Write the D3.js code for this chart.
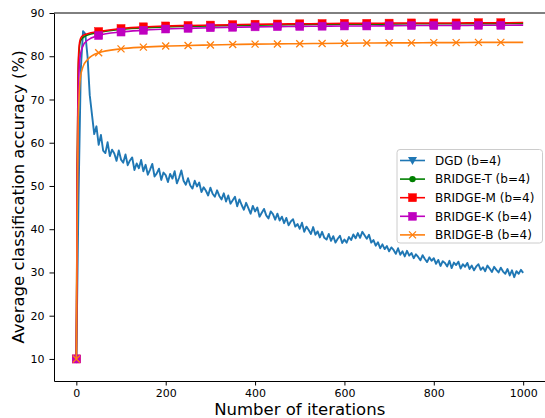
<!DOCTYPE html>
<html>
<head>
<meta charset="utf-8">
<script src="https://cdn.jsdelivr.net/npm/d3@7"></script>
<style>
  html, body { margin: 0; padding: 0; background: #fff; }
  text { font-family: "DejaVu Sans", sans-serif; fill: #000; }
</style>
</head>
<body>
<div id="chart"></div>
<script>
// DGD accuracy, sampled every 5 iterations (0..1000)
const dgdStep = 5;
const dgdValues = [
  10, 48, 77, 85.8, 85.2, 80, 71, 66.5, 62, 63.8,
  59.5, 61.8, 58.2, 57.6, 60.1, 56.9, 58.4, 57.5, 55.8, 58.2,
  56.1, 55.4, 57.3, 54.8, 55.9, 56.6, 53.7, 55.2, 54.1, 56.0,
  53.4, 54.9, 52.6, 53.8, 55.1, 52.2, 52.9, 54.0, 51.4, 53.1,
  52.5, 50.9, 52.8, 51.7, 53.4, 50.6, 51.9, 53.6, 51.2, 50.3,
  51.8, 50.1, 49.4, 51.2, 49.9, 50.8, 48.6, 49.7, 48.9, 47.8,
  49.6, 48.2, 47.5, 49.0, 47.7, 46.9, 48.3, 46.4, 47.8, 45.9,
  46.7, 47.5, 45.3, 46.9, 45.6, 44.5, 46.1, 44.9, 43.6, 45.4,
  44.1, 45.0, 42.9, 43.8, 44.7, 43.2, 42.5, 44.1, 43.5, 42.2,
  43.6, 42.0, 42.9, 41.4, 42.6, 40.9, 41.8, 42.3, 40.6, 41.2,
  40.1, 41.5, 39.4, 40.6, 39.8, 38.9, 40.5, 38.7, 39.5, 38.1,
  39.4, 38.0, 37.6, 38.9, 37.3, 38.4, 36.9, 37.8, 38.5, 36.8,
  37.6, 36.9, 38.2, 37.5, 38.8, 37.9, 39.1, 38.0, 39.4, 38.6,
  37.8, 38.7, 36.9, 37.5, 36.2, 37.0, 35.6, 36.5, 35.4, 36.1,
  34.9, 35.8, 35.2, 34.3, 35.6, 34.1, 34.9, 33.7, 35.0, 33.9,
  34.5, 33.3, 34.2, 33.6, 32.8, 34.0, 33.1, 32.4, 33.5, 32.7,
  33.3, 32.0, 32.9, 31.5, 32.6, 32.2, 31.4, 32.7, 31.0, 32.3,
  31.7, 32.5, 30.9, 31.9, 31.3, 32.2, 30.8, 31.6, 30.5, 31.4,
  31.9, 30.6, 31.2, 30.3, 31.6, 30.9, 30.1, 31.3, 30.6, 30.0,
  31.1, 30.2, 29.7, 30.8, 29.3, 30.5, 28.9, 30.3, 29.7, 30.6,
  29.9
];

// BRIDGE variants share these iteration points
const bridgeIters = [0, 2, 4, 6, 9, 15, 25, 50, 100, 150, 200, 250, 300, 350, 400,
  450, 500, 550, 600, 650, 700, 750, 800, 850, 900, 950, 1000];
const bridgeT = [10, 53, 75, 81, 83.4, 84.3, 84.9, 85.5, 86.2, 86.6, 86.8, 86.9, 87.0, 87.1,
  87.2, 87.25, 87.3, 87.35, 87.4, 87.4, 87.45, 87.5, 87.5, 87.5, 87.55, 87.55, 87.6];
const bridgeM = [10, 55, 77, 82, 84, 84.8, 85.2, 85.7, 86.4, 86.8, 87.0, 87.1, 87.2, 87.3,
  87.4, 87.45, 87.5, 87.55, 87.6, 87.6, 87.65, 87.7, 87.7, 87.7, 87.75, 87.75, 87.8];
const bridgeK = [10, 45, 69, 76.5, 80.3, 82.4, 83.7, 84.8, 85.6, 86.0, 86.3, 86.45, 86.6, 86.7,
  86.8, 86.85, 86.9, 86.95, 87.0, 87.0, 87.05, 87.1, 87.1, 87.1, 87.15, 87.15, 87.2];
const bridgeB = [10, 44, 64, 70.5, 75, 77.6, 79.2, 80.8, 81.7, 82.1, 82.35, 82.5, 82.6, 82.7,
  82.8, 82.85, 82.9, 82.95, 83.0, 83.05, 83.1, 83.1, 83.15, 83.15, 83.2, 83.2, 83.2];

const xTicks = [0, 200, 400, 600, 800, 1000];
const yTicks = [10, 20, 30, 40, 50, 60, 70, 80, 90];

const series = [
  { label: "DGD (b=4)", color: "#1f77b4", marker: "triangle", smooth: false, lw: 1.9,
    data: dgdValues.map((v, i) => ({ x: i * dgdStep, y: v })), markEvery: 1000 },
  { label: "BRIDGE-T (b=4)", color: "#008000", marker: "circle", smooth: true, lw: 1.6,
    data: bridgeIters.map((x, i) => ({ x, y: bridgeT[i] })), markEvery: 50 },
  { label: "BRIDGE-M (b=4)", color: "#ff0000", marker: "square", smooth: true, lw: 1.6,
    data: bridgeIters.map((x, i) => ({ x, y: bridgeM[i] })), markEvery: 50 },
  { label: "BRIDGE-K (b=4)", color: "#bf00bf", marker: "square", smooth: true, lw: 1.6,
    data: bridgeIters.map((x, i) => ({ x, y: bridgeK[i] })), markEvery: 50 },
  { label: "BRIDGE-B (b=4)", color: "#ff7f0e", marker: "x", smooth: true, lw: 1.6,
    data: bridgeIters.map((x, i) => ({ x, y: bridgeB[i] })), markEvery: 50 }
];

const width = 545, height = 418;
const margin = { top: 13, right: -0.5, bottom: 37, left: 54 };

const svg = d3.select("#chart").append("svg")
  .attr("width", width)
  .attr("height", height);

const x = d3.scaleLinear()
  .domain([-50, 1050])
  .range([margin.left, width - margin.right]);

const y = d3.scaleLinear()
  .domain([4.9, 90])
  .range([height - margin.bottom, margin.top]);

// axes
const xAxis = svg.append("g")
  .attr("transform", `translate(0,${height - margin.bottom})`)
  .call(d3.axisBottom(x).tickValues(xTicks).tickFormat(d3.format("d"))
    .tickSize(4.5).tickPadding(3.5).tickSizeOuter(0));
const yAxis = svg.append("g")
  .attr("transform", `translate(${margin.left},0)`)
  .call(d3.axisLeft(y).tickValues(yTicks).tickFormat(d3.format("d"))
    .tickSize(4.5).tickPadding(5).tickSizeOuter(0));

[xAxis, yAxis].forEach(g => {
  g.selectAll("text").style("font-size", "11px").style("font-family", "DejaVu Sans");
  g.selectAll("line, path").attr("stroke", "#000").attr("stroke-width", 1);
});

// top spine (right spine falls on the image edge)
svg.append("line")
  .attr("x1", margin.left).attr("x2", width)
  .attr("y1", margin.top).attr("y2", margin.top)
  .attr("stroke", "#000").attr("stroke-width", 1);

const plot = svg.append("g");
plot.append("clipPath").attr("id", "clip")
  .append("rect")
  .attr("x", margin.left).attr("y", margin.top)
  .attr("width", x(1050) - margin.left)
  .attr("height", y(4.9) - margin.top);

const smoothLine = d3.line()
  .x(d => x(d.x))
  .y(d => y(d.y))
  .curve(d3.curveMonotoneX);
const rawLine = d3.line()
  .x(d => x(d.x))
  .y(d => y(d.y));

function drawMarker(g, type, color, cx, cy) {
  if (type === "square") {
    g.append("rect")
      .attr("x", cx - 4).attr("y", cy - 4)
      .attr("width", 8).attr("height", 8)
      .attr("fill", color).attr("stroke", color).attr("stroke-width", 0.5);
  } else if (type === "circle") {
    g.append("circle")
      .attr("cx", cx).attr("cy", cy).attr("r", 3.2)
      .attr("fill", color);
  } else if (type === "triangle") {
    g.append("path")
      .attr("d", `M${cx - 4.5},${cy - 3.5}L${cx + 4.5},${cy - 3.5}L${cx},${cy + 4.5}Z`)
      .attr("fill", color);
  } else if (type === "x") {
    g.append("path")
      .attr("d", `M${cx - 3.5},${cy - 3.5}L${cx + 3.5},${cy + 3.5}M${cx - 3.5},${cy + 3.5}L${cx + 3.5},${cy - 3.5}`)
      .attr("stroke", color).attr("stroke-width", 1.3).attr("fill", "none");
  }
}

series.forEach(s => {
  const g = plot.append("g").attr("clip-path", "url(#clip)");
  g.append("path")
    .datum(s.data)
    .attr("fill", "none")
    .attr("stroke", s.color)
    .attr("stroke-width", s.lw)
    .attr("stroke-linejoin", "round")
    .attr("d", s.smooth ? smoothLine : rawLine);
  s.data
    .filter(d => d.x % s.markEvery === 0 && d.x < 1000)
    .forEach(d => drawMarker(g, s.marker, s.color, x(d.x), y(d.y)));
});

// axis titles
svg.append("text")
  .attr("x", (x.range()[0] + x.range()[1]) / 2)
  .attr("y", 415)
  .attr("text-anchor", "middle")
  .style("font-size", "16.5px")
  .text("Number of iterations");

svg.append("text")
  .attr("transform", `translate(24,${(margin.top + height - margin.bottom) / 2}) rotate(-90)`)
  .attr("text-anchor", "middle")
  .style("font-size", "16.5px")
  .text("Average classification accuracy (%)");

// legend
const legend = svg.append("g");
legend.append("rect")
  .attr("x", 397).attr("y", 149.5)
  .attr("width", 145.5).attr("height", 93.5)
  .attr("rx", 3)
  .attr("fill", "#fff").attr("fill-opacity", 0.8)
  .attr("stroke", "#ccc").attr("stroke-width", 1);

series.forEach((s, i) => {
  const ly = 160.5 + i * 18.6;
  legend.append("line")
    .attr("x1", 400).attr("x2", 425)
    .attr("y1", ly).attr("y2", ly)
    .attr("stroke", s.color).attr("stroke-width", 1.6);
  drawMarker(legend, s.marker, s.color, 412.5, ly);
  legend.append("text")
    .attr("x", 435).attr("y", ly)
    .attr("dy", "0.36em")
    .style("font-size", "12px")
    .text(s.label);
});
</script>
</body>
</html>
